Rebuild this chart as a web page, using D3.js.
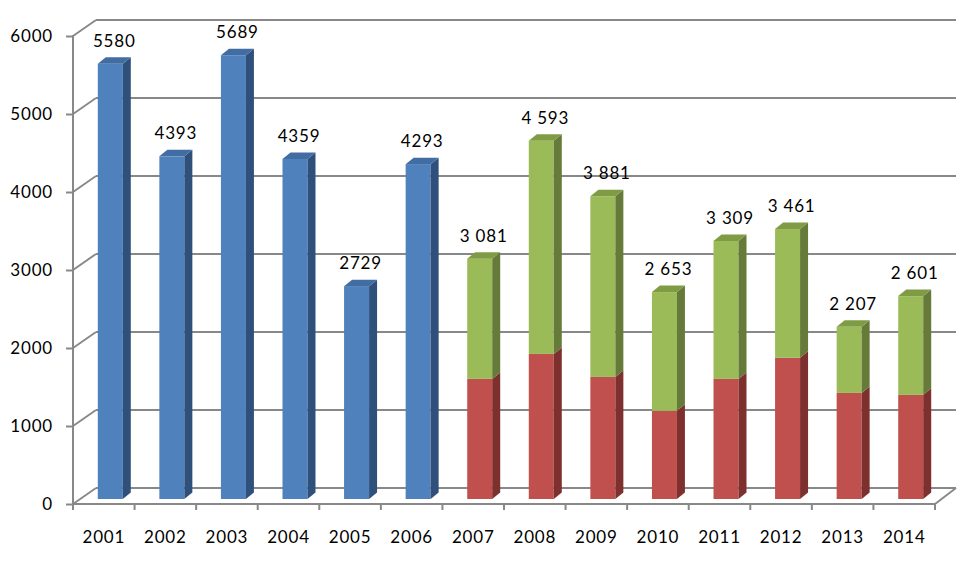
<!DOCTYPE html>
<html>
<head>
<meta charset="utf-8">
<script src="https://cdn.jsdelivr.net/npm/d3@7"></script>
<style>
  html, body { margin: 0; padding: 0; background: #ffffff; }
  svg { display: block; }
  text { font-family: Lato, "Open Sans", sans-serif; font-size: 17px; fill: #000; letter-spacing: 0.8px; }
</style>
</head>
<body>
<div id="chart"></div>
<script>
// ---- data ----
const years = ["2001","2002","2003","2004","2005","2006","2007","2008","2009","2010","2011","2012","2013","2014"];
const blueValues  = [5580, 4393, 5689, 4359, 2729, 4293, 0, 0, 0, 0, 0, 0, 0, 0];
const redValues   = [0, 0, 0, 0, 0, 0, 1540, 1860, 1565, 1130, 1540, 1810, 1360, 1335];
const greenValues = [0, 0, 0, 0, 0, 0, 1541, 2733, 2316, 1523, 1769, 1651, 847, 1266];
const labelTexts  = ["5580","4393","5689","4359","2729","4293","3 081","4 593","3 881","2 653","3 309","3 461","2 207","2 601"];
const labelValues = [5580, 4393, 5689, 4359, 2729, 4293, 3081, 4593, 3881, 2653, 3309, 3461, 2207, 2601];
const yTicks = [0, 1000, 2000, 3000, 4000, 5000, 6000];

// ---- layout ----
const W = 969, H = 576;
const svg = d3.select("#chart").append("svg").attr("width", W).attr("height", H);

const x = d3.scaleBand().domain(years).range([73, 935]).paddingInner(0).paddingOuter(0);
const yFront = d3.scaleLinear().domain([0, 6000]).range([504, 36]);
const wallDX = 23, wallDY = -16;           // back wall offset
const barShiftX = 6.5, barShiftY = -5;     // bar position inside depth
const barW = 25, barDX = 8, barDY = -6.5;  // bar size and depth
const yBar = v => yFront(v) + barShiftY;

const gridColor = "#888888";

// side wall diagonals + back wall gridlines
const grid = svg.append("g");
yTicks.forEach(v => {
  grid.append("line")
    .attr("x1", 73).attr("y1", yFront(v))
    .attr("x2", 73 + wallDX).attr("y2", yFront(v) + wallDY)
    .attr("stroke", gridColor).attr("stroke-width", 2);
  grid.append("line")
    .attr("x1", 73 + wallDX).attr("y1", yFront(v) + wallDY)
    .attr("x2", 935 + wallDX - 2).attr("y2", yFront(v) + wallDY)
    .attr("stroke", gridColor).attr("stroke-width", 2);
});
// floor right diagonal
grid.append("line")
  .attr("x1", 935).attr("y1", yFront(0))
  .attr("x2", 935 + wallDX - 2).attr("y2", yFront(0) + wallDY)
  .attr("stroke", gridColor).attr("stroke-width", 2);

// ---- bars ----
const palettes = {
  blue:  { front: "#4F81BD", top: "#416DA3", side: "#30507C" },
  red:   { front: "#C0504D", top: "#A5423F", side: "#7E302E" },
  green: { front: "#9BBB59", top: "#7F9C45", side: "#667B39" }
};

function drawSegment(g, cx, v0, v1, pal, withTop) {
  const xl = cx - barW / 2, xr = cx + barW / 2;
  const yb = yBar(v0), yt = yBar(v1);
  g.append("rect").attr("x", xl).attr("y", yt).attr("width", barW).attr("height", yb - yt)
    .attr("fill", pal.front);
  g.append("path")
    .attr("d", `M${xr},${yb} L${xr + barDX},${yb + barDY} L${xr + barDX},${yt + barDY} L${xr},${yt} Z`)
    .attr("fill", pal.side);
  if (withTop) {
    g.append("path")
      .attr("d", `M${xl},${yt} L${xl + barDX},${yt + barDY} L${xr + barDX},${yt + barDY} L${xr},${yt} Z`)
      .attr("fill", pal.top);
  }
}

const bars = svg.append("g");
years.forEach((yr, i) => {
  const cx = x(yr) + x.bandwidth() / 2 + barShiftX;
  const g = bars.append("g");
  if (blueValues[i] > 0) {
    drawSegment(g, cx, 0, blueValues[i], palettes.blue, true);
  } else {
    drawSegment(g, cx, 0, redValues[i], palettes.red, false);
    drawSegment(g, cx, redValues[i], redValues[i] + greenValues[i], palettes.green, true);
  }
});

// ---- value labels ----
svg.append("g").selectAll("text").data(years).join("text")
  .attr("x", (d, i) => x(d) + x.bandwidth() / 2 + barShiftX + 4)
  .attr("y", (d, i) => yBar(labelValues[i]) - 17)
  .attr("text-anchor", "middle")
  .text((d, i) => labelTexts[i]);

// ---- axes ----
const fontStack = "Lato, 'Open Sans', sans-serif";
const yAxis = d3.axisLeft(yFront).tickValues(yTicks).tickSize(7).tickPadding(13).tickFormat(d3.format("d"));
const gy = svg.append("g").attr("transform", "translate(73,0)").call(yAxis);
gy.select(".domain").attr("d", `M0,${yFront(6000) - 1}V${yFront(0) + 6}`).attr("stroke", gridColor).attr("stroke-width", 2);
gy.selectAll(".tick line").attr("stroke", gridColor).attr("stroke-width", 2);
gy.selectAll(".tick text").style("font-family", fontStack).style("font-size", "17px").attr("fill", "#000");

const xAxis = d3.axisBottom(x).tickSize(0).tickPadding(27);
const gx = svg.append("g").attr("transform", `translate(0,${yFront(0)})`).call(xAxis);
gx.select(".domain").attr("d", "M73,0H935").attr("stroke", gridColor).attr("stroke-width", 2);
gx.selectAll(".tick text").style("font-family", fontStack).style("font-size", "17px").attr("fill", "#000");
// category boundary ticks
gx.append("g").selectAll("line").data(years.concat(["end"])).join("line")
  .attr("x1", (d, i) => 73 + i * x.bandwidth())
  .attr("x2", (d, i) => 73 + i * x.bandwidth())
  .attr("y1", 0).attr("y2", 6)
  .attr("stroke", gridColor).attr("stroke-width", 2);
</script>
</body>
</html>
